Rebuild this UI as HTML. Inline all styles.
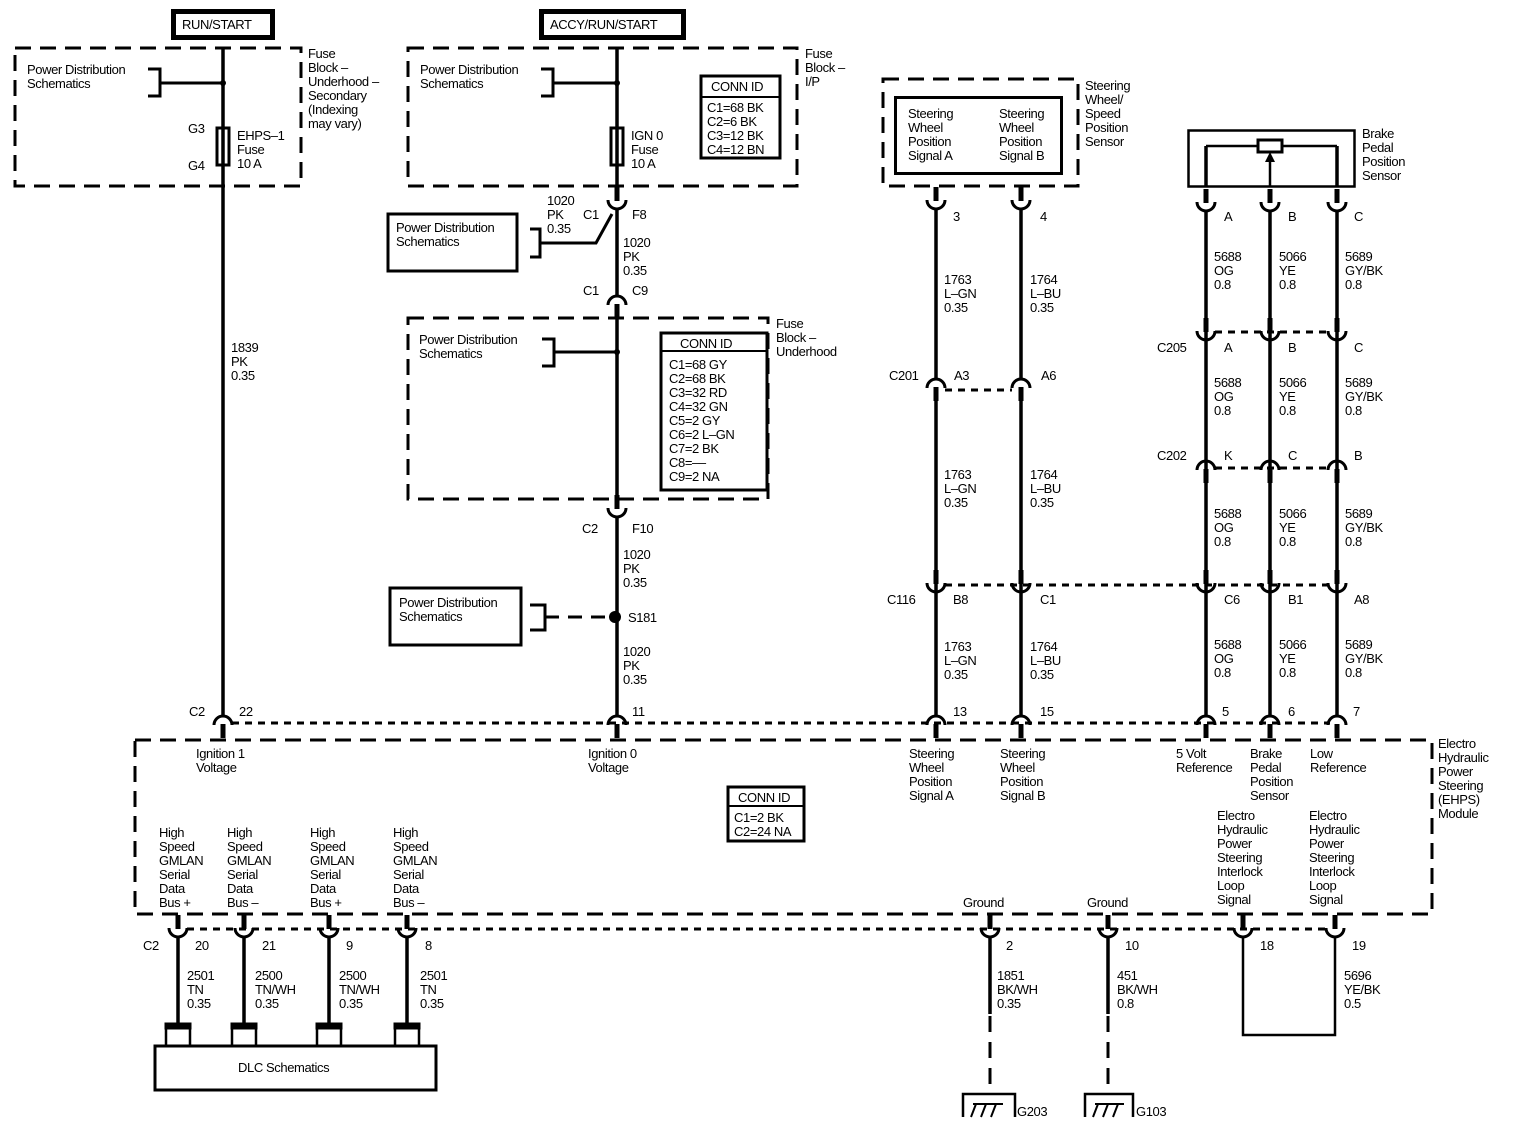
<!DOCTYPE html>
<html><head><meta charset="utf-8"><style>
html,body{margin:0;padding:0;background:#fff;}
svg{display:block;}
text{font-family:"Liberation Sans",Arial,sans-serif;font-size:13px;fill:#000;letter-spacing:-0.4px;}
.b{font-weight:bold;}
</style></head><body>
<svg width="1520" height="1126" viewBox="0 0 1520 1126" xmlns="http://www.w3.org/2000/svg">
<defs>
<g id="cd"><rect x="-2.5" y="-22" width="5" height="14" fill="#000"/><path d="M-9,-9 A9,9 0 0 0 9,-9" fill="none" stroke="#000" stroke-width="3"/></g>
<g id="cu"><rect x="-2.5" y="8" width="5" height="14" fill="#000"/><path d="M-9,9 A9,9 0 0 1 9,9" fill="none" stroke="#000" stroke-width="3"/></g>
</defs>
<g fill="none" stroke="#000">
<!-- top labels -->
<rect x="173.5" y="11.5" width="99" height="26" stroke-width="5"/>
<rect x="541.5" y="11.5" width="142" height="26" stroke-width="5"/>
<!-- dashed boxes -->
<g stroke-width="3" stroke-dasharray="16,9">
<rect x="15" y="48" width="286" height="138"/>
<rect x="408" y="48" width="389" height="138"/>
<rect x="408" y="318" width="360" height="181"/>
<rect x="883" y="79" width="195" height="107"/>
<rect x="135" y="740" width="1297" height="174"/>
</g>
<!-- solid boxes -->
<rect x="388" y="214" width="129" height="57" stroke-width="3"/>
<rect x="390" y="588" width="131" height="57" stroke-width="3"/>
<rect x="155" y="1046" width="281" height="44" stroke-width="3"/>
<rect x="895.5" y="97.5" width="166" height="76" stroke-width="3"/>
<rect x="1188.5" y="130.5" width="166" height="56" stroke-width="2.5"/>
<rect x="701" y="76" width="79" height="82" stroke-width="3"/>
<line x1="701" y1="97" x2="780" y2="97" stroke-width="2"/>
<rect x="661" y="333" width="106" height="157" stroke-width="3"/>
<line x1="661" y1="351" x2="767" y2="351" stroke-width="2"/>
<rect x="728" y="787" width="76" height="54" stroke-width="3"/>
<line x1="728" y1="806" x2="804" y2="806" stroke-width="2"/>
<!-- fuses -->
<rect x="217" y="128" width="12" height="37" stroke-width="3"/>
<rect x="611" y="128" width="12" height="37" stroke-width="3"/>
<!-- brackets -->
<g stroke-width="3">
<path d="M148,69 H160 V96 H148"/><line x1="160" y1="83" x2="223" y2="83"/>
<path d="M541,69 H553 V96 H541"/><line x1="553" y1="83" x2="617" y2="83"/>
<path d="M530,229 H540 V257 H530"/><path d="M540,243 H596 L612,214"/>
<path d="M542,339 H554 V366 H542"/><line x1="554" y1="352" x2="617" y2="352"/>
<path d="M530,605 H545 V630 H530"/>
</g>
<line x1="545" y1="617" x2="610" y2="617" stroke-width="3" stroke-dasharray="14,9"/>
<!-- main wires -->
<g stroke-width="3.5">
<line x1="223" y1="48" x2="223" y2="716"/>
<line x1="617" y1="48" x2="617" y2="187"/>
<line x1="617" y1="209" x2="617" y2="296"/>
<line x1="617" y1="318" x2="617" y2="500"/>
<line x1="617" y1="517" x2="617" y2="716"/>
<line x1="936" y1="209" x2="936" y2="379"/>
<line x1="1021" y1="209" x2="1021" y2="379"/>
<line x1="936" y1="401" x2="936" y2="588"/>
<line x1="1021" y1="401" x2="1021" y2="588"/>
<line x1="936" y1="588" x2="936" y2="716"/>
<line x1="1021" y1="588" x2="1021" y2="716"/>
<line x1="1206" y1="146" x2="1206" y2="186"/>
<line x1="1337" y1="146" x2="1337" y2="186"/>
<line x1="1206" y1="211" x2="1206" y2="716"/>
<line x1="1270" y1="211" x2="1270" y2="716"/>
<line x1="1337" y1="211" x2="1337" y2="716"/>
<line x1="178" y1="937" x2="178" y2="1026"/>
<line x1="244" y1="937" x2="244" y2="1026"/>
<line x1="329" y1="937" x2="329" y2="1026"/>
<line x1="407" y1="937" x2="407" y2="1026"/>
<line x1="990" y1="937" x2="990" y2="1014"/>
<line x1="1108" y1="937" x2="1108" y2="1014"/>
</g>
<g stroke-width="2.5">
<path d="M1206,146 H1258"/><path d="M1282,146 H1337"/>
<line x1="1270" y1="160" x2="1270" y2="186"/>
<path d="M1243,937 V1035 H1335 V937"/>
</g>
<rect x="1258" y="140" width="24" height="12" stroke-width="3" fill="#fff"/>
<polygon points="1270,152 1265,162 1275,162" fill="#000" stroke="none"/>
<!-- ground dashes -->
<g stroke-width="3" stroke-dasharray="16,10">
<line x1="990" y1="1016" x2="990" y2="1093"/>
<line x1="1108" y1="1016" x2="1108" y2="1093"/>
</g>
<!-- grounds -->
<g stroke-width="2.5">
<path d="M963,1117 V1094 H1015 V1117"/>
<path d="M1085,1117 V1094 H1133 V1117"/>
</g>
<g stroke-width="2">
<path d="M973,1104 H1003 M976,1104 L971,1117 M986,1104 L981,1117 M996,1104 L991,1117"/>
<path d="M1095,1104 H1124 M1098,1104 L1093,1117 M1108,1104 L1103,1117 M1118,1104 L1113,1117"/>
</g>
<!-- DLC stubs -->
<g stroke-width="2.5">
<path d="M166,1046 V1026 H190 V1046"/><path d="M232,1046 V1026 H256 V1046"/>
<path d="M317,1046 V1026 H341 V1046"/><path d="M395,1046 V1026 H419 V1046"/>
</g>
<g stroke-width="3" fill="#000"><rect x="166" y="1024" width="24" height="4"/><rect x="232" y="1024" width="24" height="4"/><rect x="317" y="1024" width="24" height="4"/><rect x="395" y="1024" width="24" height="4"/></g>
<!-- dotted / dashed connector lines -->
<g stroke-width="3" stroke-dasharray="7,6">
<line x1="232" y1="723" x2="1330" y2="723"/>
<line x1="187" y1="929" x2="1330" y2="929"/>
<line x1="945" y1="390" x2="1012" y2="390"/>
<line x1="945" y1="585" x2="1330" y2="585"/>
<line x1="1215" y1="332" x2="1330" y2="332"/>
<line x1="1215" y1="468" x2="1330" y2="468"/>
</g>
</g>
<!-- junction dots -->
<circle cx="223" cy="83" r="3"/><circle cx="617" cy="83" r="3"/><circle cx="617" cy="352" r="3"/><circle cx="615" cy="617" r="6"/>
<!-- connectors -->
<use href="#cd" x="617" y="209"/>
<use href="#cu" x="617" y="296"/>
<use href="#cd" x="617" y="517"/>
<use href="#cd" x="936" y="209"/><use href="#cd" x="1021" y="209"/>
<use href="#cu" x="936" y="379"/><use href="#cu" x="1021" y="379"/>
<use href="#cd" x="936" y="592"/><use href="#cd" x="1021" y="592"/>
<use href="#cd" x="1206" y="211"/><use href="#cd" x="1270" y="211"/><use href="#cd" x="1337" y="211"/>
<use href="#cd" x="1206" y="340"/><use href="#cd" x="1270" y="340"/><use href="#cd" x="1337" y="340"/>
<use href="#cu" x="1206" y="461"/><use href="#cu" x="1270" y="461"/><use href="#cu" x="1337" y="461"/>
<use href="#cd" x="1206" y="592"/><use href="#cd" x="1270" y="592"/><use href="#cd" x="1337" y="592"/>
<use href="#cu" x="223" y="716"/><use href="#cu" x="617" y="716"/><use href="#cu" x="936" y="716"/><use href="#cu" x="1021" y="716"/><use href="#cu" x="1206" y="716"/><use href="#cu" x="1270" y="716"/><use href="#cu" x="1337" y="716"/>
<use href="#cd" x="178" y="937"/><use href="#cd" x="244" y="937"/><use href="#cd" x="329" y="937"/><use href="#cd" x="407" y="937"/>
<use href="#cd" x="990" y="937"/><use href="#cd" x="1108" y="937"/><use href="#cd" x="1243" y="937"/><use href="#cd" x="1335" y="937"/>
<!-- texts -->
<text x="182" y="29">RUN/START</text>
<text x="550" y="29">ACCY/RUN/START</text>
<text x="27" y="74">Power Distribution<tspan x="27" dy="14">Schematics</tspan></text>
<text x="308" y="58">Fuse<tspan x="308" dy="14">Block –</tspan><tspan x="308" dy="14">Underhood –</tspan><tspan x="308" dy="14">Secondary</tspan><tspan x="308" dy="14">(Indexing</tspan><tspan x="308" dy="14">may vary)</tspan></text>
<text x="188" y="133">G3</text><text x="188" y="170">G4</text>
<text x="237" y="140">EHPS–1<tspan x="237" dy="14">Fuse</tspan><tspan x="237" dy="14">10 A</tspan></text>
<text x="420" y="74">Power Distribution<tspan x="420" dy="14">Schematics</tspan></text>
<text x="631" y="140">IGN 0<tspan x="631" dy="14">Fuse</tspan><tspan x="631" dy="14">10 A</tspan></text>
<text x="711" y="91">CONN ID</text>
<text x="707" y="112">C1=68 BK<tspan x="707" dy="14">C2=6 BK</tspan><tspan x="707" dy="14">C3=12 BK</tspan><tspan x="707" dy="14">C4=12 BN</tspan></text>
<text x="805" y="58">Fuse<tspan x="805" dy="14">Block –</tspan><tspan x="805" dy="14">I/P</tspan></text>
<text x="547" y="205">1020<tspan x="547" dy="14">PK</tspan><tspan x="547" dy="14">0.35</tspan></text>
<text x="583" y="219">C1</text><text x="632" y="219">F8</text>
<text x="396" y="232">Power Distribution<tspan x="396" dy="14">Schematics</tspan></text>
<text x="623" y="247">1020<tspan x="623" dy="14">PK</tspan><tspan x="623" dy="14">0.35</tspan></text>
<text x="583" y="295">C1</text><text x="632" y="295">C9</text>
<text x="419" y="344">Power Distribution<tspan x="419" dy="14">Schematics</tspan></text>
<text x="680" y="348">CONN ID</text>
<text x="669" y="369">C1=68 GY<tspan x="669" dy="14">C2=68 BK</tspan><tspan x="669" dy="14">C3=32 RD</tspan><tspan x="669" dy="14">C4=32 GN</tspan><tspan x="669" dy="14">C5=2 GY</tspan><tspan x="669" dy="14">C6=2 L–GN</tspan><tspan x="669" dy="14">C7=2 BK</tspan><tspan x="669" dy="14">C8=––</tspan><tspan x="669" dy="14">C9=2 NA</tspan></text>
<text x="776" y="328">Fuse<tspan x="776" dy="14">Block –</tspan><tspan x="776" dy="14">Underhood</tspan></text>
<text x="582" y="533">C2</text><text x="632" y="533">F10</text>
<text x="623" y="559">1020<tspan x="623" dy="14">PK</tspan><tspan x="623" dy="14">0.35</tspan></text>
<text x="399" y="607">Power Distribution<tspan x="399" dy="14">Schematics</tspan></text>
<text x="628" y="622">S181</text>
<text x="623" y="656">1020<tspan x="623" dy="14">PK</tspan><tspan x="623" dy="14">0.35</tspan></text>
<text x="231" y="352">1839<tspan x="231" dy="14">PK</tspan><tspan x="231" dy="14">0.35</tspan></text>
<text x="189" y="716">C2</text><text x="239" y="716">22</text><text x="632" y="716">11</text>
<text x="908" y="118">Steering<tspan x="908" dy="14">Wheel</tspan><tspan x="908" dy="14">Position</tspan><tspan x="908" dy="14">Signal A</tspan></text>
<text x="999" y="118">Steering<tspan x="999" dy="14">Wheel</tspan><tspan x="999" dy="14">Position</tspan><tspan x="999" dy="14">Signal B</tspan></text>
<text x="1085" y="90">Steering<tspan x="1085" dy="14">Wheel/</tspan><tspan x="1085" dy="14">Speed</tspan><tspan x="1085" dy="14">Position</tspan><tspan x="1085" dy="14">Sensor</tspan></text>
<text x="953" y="221">3</text><text x="1040" y="221">4</text>
<text x="944" y="284">1763<tspan x="944" dy="14">L–GN</tspan><tspan x="944" dy="14">0.35</tspan></text>
<text x="1030" y="284">1764<tspan x="1030" dy="14">L–BU</tspan><tspan x="1030" dy="14">0.35</tspan></text>
<text x="889" y="380">C201</text><text x="954" y="380">A3</text><text x="1041" y="380">A6</text>
<text x="944" y="479">1763<tspan x="944" dy="14">L–GN</tspan><tspan x="944" dy="14">0.35</tspan></text>
<text x="1030" y="479">1764<tspan x="1030" dy="14">L–BU</tspan><tspan x="1030" dy="14">0.35</tspan></text>
<text x="887" y="604">C116</text><text x="953" y="604">B8</text><text x="1040" y="604">C1</text>
<text x="944" y="651">1763<tspan x="944" dy="14">L–GN</tspan><tspan x="944" dy="14">0.35</tspan></text>
<text x="1030" y="651">1764<tspan x="1030" dy="14">L–BU</tspan><tspan x="1030" dy="14">0.35</tspan></text>
<text x="953" y="716">13</text><text x="1040" y="716">15</text>
<text x="1362" y="138">Brake<tspan x="1362" dy="14">Pedal</tspan><tspan x="1362" dy="14">Position</tspan><tspan x="1362" dy="14">Sensor</tspan></text>
<text x="1224" y="221">A</text><text x="1288" y="221">B</text><text x="1354" y="221">C</text>
<text x="1214" y="261">5688<tspan x="1214" dy="14">OG</tspan><tspan x="1214" dy="14">0.8</tspan></text>
<text x="1279" y="261">5066<tspan x="1279" dy="14">YE</tspan><tspan x="1279" dy="14">0.8</tspan></text>
<text x="1345" y="261">5689<tspan x="1345" dy="14">GY/BK</tspan><tspan x="1345" dy="14">0.8</tspan></text>
<text x="1157" y="352">C205</text><text x="1224" y="352">A</text><text x="1288" y="352">B</text><text x="1354" y="352">C</text>
<text x="1214" y="387">5688<tspan x="1214" dy="14">OG</tspan><tspan x="1214" dy="14">0.8</tspan></text>
<text x="1279" y="387">5066<tspan x="1279" dy="14">YE</tspan><tspan x="1279" dy="14">0.8</tspan></text>
<text x="1345" y="387">5689<tspan x="1345" dy="14">GY/BK</tspan><tspan x="1345" dy="14">0.8</tspan></text>
<text x="1157" y="460">C202</text><text x="1224" y="460">K</text><text x="1288" y="460">C</text><text x="1354" y="460">B</text>
<text x="1214" y="518">5688<tspan x="1214" dy="14">OG</tspan><tspan x="1214" dy="14">0.8</tspan></text>
<text x="1279" y="518">5066<tspan x="1279" dy="14">YE</tspan><tspan x="1279" dy="14">0.8</tspan></text>
<text x="1345" y="518">5689<tspan x="1345" dy="14">GY/BK</tspan><tspan x="1345" dy="14">0.8</tspan></text>
<text x="1224" y="604">C6</text><text x="1288" y="604">B1</text><text x="1354" y="604">A8</text>
<text x="1214" y="649">5688<tspan x="1214" dy="14">OG</tspan><tspan x="1214" dy="14">0.8</tspan></text>
<text x="1279" y="649">5066<tspan x="1279" dy="14">YE</tspan><tspan x="1279" dy="14">0.8</tspan></text>
<text x="1345" y="649">5689<tspan x="1345" dy="14">GY/BK</tspan><tspan x="1345" dy="14">0.8</tspan></text>
<text x="1222" y="716">5</text><text x="1288" y="716">6</text><text x="1353" y="716">7</text>
<text x="196" y="758">Ignition 1<tspan x="196" dy="14">Voltage</tspan></text>
<text x="588" y="758">Ignition 0<tspan x="588" dy="14">Voltage</tspan></text>
<text x="909" y="758">Steering<tspan x="909" dy="14">Wheel</tspan><tspan x="909" dy="14">Position</tspan><tspan x="909" dy="14">Signal A</tspan></text>
<text x="1000" y="758">Steering<tspan x="1000" dy="14">Wheel</tspan><tspan x="1000" dy="14">Position</tspan><tspan x="1000" dy="14">Signal B</tspan></text>
<text x="1176" y="758">5 Volt<tspan x="1176" dy="14">Reference</tspan></text>
<text x="1250" y="758">Brake<tspan x="1250" dy="14">Pedal</tspan><tspan x="1250" dy="14">Position</tspan><tspan x="1250" dy="14">Sensor</tspan></text>
<text x="1310" y="758">Low<tspan x="1310" dy="14">Reference</tspan></text>
<text x="1438" y="748">Electro<tspan x="1438" dy="14">Hydraulic</tspan><tspan x="1438" dy="14">Power</tspan><tspan x="1438" dy="14">Steering</tspan><tspan x="1438" dy="14">(EHPS)</tspan><tspan x="1438" dy="14">Module</tspan></text>
<text x="738" y="802">CONN ID</text>
<text x="734" y="822">C1=2 BK<tspan x="734" dy="14">C2=24 NA</tspan></text>
<text x="1217" y="820">Electro<tspan x="1217" dy="14">Hydraulic</tspan><tspan x="1217" dy="14">Power</tspan><tspan x="1217" dy="14">Steering</tspan><tspan x="1217" dy="14">Interlock</tspan><tspan x="1217" dy="14">Loop</tspan><tspan x="1217" dy="14">Signal</tspan></text>
<text x="1309" y="820">Electro<tspan x="1309" dy="14">Hydraulic</tspan><tspan x="1309" dy="14">Power</tspan><tspan x="1309" dy="14">Steering</tspan><tspan x="1309" dy="14">Interlock</tspan><tspan x="1309" dy="14">Loop</tspan><tspan x="1309" dy="14">Signal</tspan></text>
<text x="159" y="837">High<tspan x="159" dy="14">Speed</tspan><tspan x="159" dy="14">GMLAN</tspan><tspan x="159" dy="14">Serial</tspan><tspan x="159" dy="14">Data</tspan><tspan x="159" dy="14">Bus +</tspan></text>
<text x="227" y="837">High<tspan x="227" dy="14">Speed</tspan><tspan x="227" dy="14">GMLAN</tspan><tspan x="227" dy="14">Serial</tspan><tspan x="227" dy="14">Data</tspan><tspan x="227" dy="14">Bus –</tspan></text>
<text x="310" y="837">High<tspan x="310" dy="14">Speed</tspan><tspan x="310" dy="14">GMLAN</tspan><tspan x="310" dy="14">Serial</tspan><tspan x="310" dy="14">Data</tspan><tspan x="310" dy="14">Bus +</tspan></text>
<text x="393" y="837">High<tspan x="393" dy="14">Speed</tspan><tspan x="393" dy="14">GMLAN</tspan><tspan x="393" dy="14">Serial</tspan><tspan x="393" dy="14">Data</tspan><tspan x="393" dy="14">Bus –</tspan></text>
<text x="963" y="907">Ground</text><text x="1087" y="907">Ground</text>
<text x="143" y="950">C2</text><text x="195" y="950">20</text><text x="262" y="950">21</text><text x="346" y="950">9</text><text x="425" y="950">8</text>
<text x="1006" y="950">2</text><text x="1125" y="950">10</text><text x="1260" y="950">18</text><text x="1352" y="950">19</text>
<text x="187" y="980">2501<tspan x="187" dy="14">TN</tspan><tspan x="187" dy="14">0.35</tspan></text>
<text x="255" y="980">2500<tspan x="255" dy="14">TN/WH</tspan><tspan x="255" dy="14">0.35</tspan></text>
<text x="339" y="980">2500<tspan x="339" dy="14">TN/WH</tspan><tspan x="339" dy="14">0.35</tspan></text>
<text x="420" y="980">2501<tspan x="420" dy="14">TN</tspan><tspan x="420" dy="14">0.35</tspan></text>
<text x="997" y="980">1851<tspan x="997" dy="14">BK/WH</tspan><tspan x="997" dy="14">0.35</tspan></text>
<text x="1117" y="980">451<tspan x="1117" dy="14">BK/WH</tspan><tspan x="1117" dy="14">0.8</tspan></text>
<text x="1344" y="980">5696<tspan x="1344" dy="14">YE/BK</tspan><tspan x="1344" dy="14">0.5</tspan></text>
<text x="238" y="1072">DLC Schematics</text>
<text x="1017" y="1116">G203</text><text x="1136" y="1116">G103</text>
</svg>
</body></html>
